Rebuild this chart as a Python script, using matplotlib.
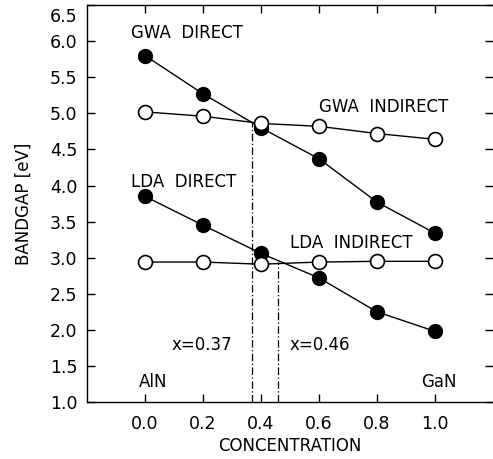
import matplotlib
matplotlib.use('Agg')
import matplotlib.pyplot as plt
import matplotlib.transforms as mtrans

plt.rcParams['font.family'] = ['DejaVu Sans']

# concentration x in Al(1-x)Ga(x)N
conc = [0.0, 0.2, 0.4, 0.6, 0.8, 1.0]
gwa_direct = [5.80, 5.27, 4.80, 4.37, 3.77, 3.34]
gwa_indirect = [5.02, 4.96, 4.86, 4.82, 4.72, 4.64]
lda_direct = [3.85, 3.45, 3.06, 2.72, 2.25, 1.98]
lda_indirect = [2.94, 2.94, 2.91, 2.94, 2.95, 2.95]

cross_x = [0.37, 0.46]
cross_y = [4.87, 2.94]

xticks = [0.0, 0.2, 0.4, 0.6, 0.8, 1.0]
yticks = [1.0, 1.5, 2.0, 2.5, 3.0, 3.5, 4.0, 4.5, 5.0, 5.5, 6.0, 6.5]

fig = plt.figure(figsize=(4.93, 4.59), dpi=100)
ax = fig.add_axes([0.1765, 0.124, 0.8235, 0.865])

ms = 10
ax.plot(conc, gwa_direct, color='black', lw=1, marker='o', ms=ms,
        mfc='black', mec='black', zorder=3)
ax.plot(conc, gwa_indirect, color='black', lw=1, marker='o', ms=ms,
        mfc='white', mec='black', mew=1.2, zorder=4)
ax.plot(conc, lda_direct, color='black', lw=1, marker='o', ms=ms,
        mfc='black', mec='black', zorder=3)
ax.plot(conc, lda_indirect, color='black', lw=1, marker='o', ms=ms,
        mfc='white', mec='black', mew=1.2, zorder=4)

# vertical dash-dot lines at the crossings
for cx, cy in zip(cross_x, cross_y):
    ax.plot([cx, cx], [1.0, cy], color='black', lw=0.9,
            dashes=[6, 2, 1, 2], zorder=2)

fs = 12
ax.text(-0.05, 6.11, 'GWA  DIRECT', fontsize=fs, ha='left', va='center')
ax.text(0.60, 5.09, 'GWA  INDIRECT', fontsize=fs, ha='left', va='center')
ax.text(-0.05, 4.05, 'LDA  DIRECT', fontsize=fs, ha='left', va='center')
ax.text(0.50, 3.20, 'LDA  INDIRECT', fontsize=fs, ha='left', va='center')
ax.text(0.09, 1.79, 'x=0.37', fontsize=fs, ha='left', va='center')
ax.text(0.50, 1.79, 'x=0.46', fontsize=fs, ha='left', va='center')
ax.text(-0.02, 1.28, 'AlN', fontsize=fs, ha='left', va='center')
ax.text(1.075, 1.28, 'GaN', fontsize=fs, ha='right', va='center')

ax.set_xlim(-0.2, 1.2)
ax.set_ylim(1.0, 6.5)
ax.set_xticks(xticks)
ax.set_yticks(yticks)
ax.set_xticklabels([f'{v:.1f}' for v in xticks])
ax.set_yticklabels([f'{v:.1f}' for v in yticks])
ax.tick_params(direction='in', length=6, width=1, labelsize=12.5,
               top=True, right=True)
ax.tick_params(axis='x', pad=9)
ax.tick_params(axis='y', pad=7)
ax.spines['right'].set_visible(False)
for s in ['left', 'top', 'bottom']:
    ax.spines[s].set_linewidth(1)

# top label sits a little lower so it stays inside the figure
top_lab = ax.get_yticklabels()[-1]
top_lab.set_transform(top_lab.get_transform() +
                      mtrans.ScaledTranslation(0, -0.10, fig.dpi_scale_trans))

ax.set_xlabel('CONCENTRATION', fontsize=12, labelpad=3)
ax.set_ylabel('BANDGAP [eV]', fontsize=12, labelpad=12)

fig.savefig('out.png', dpi=100)
